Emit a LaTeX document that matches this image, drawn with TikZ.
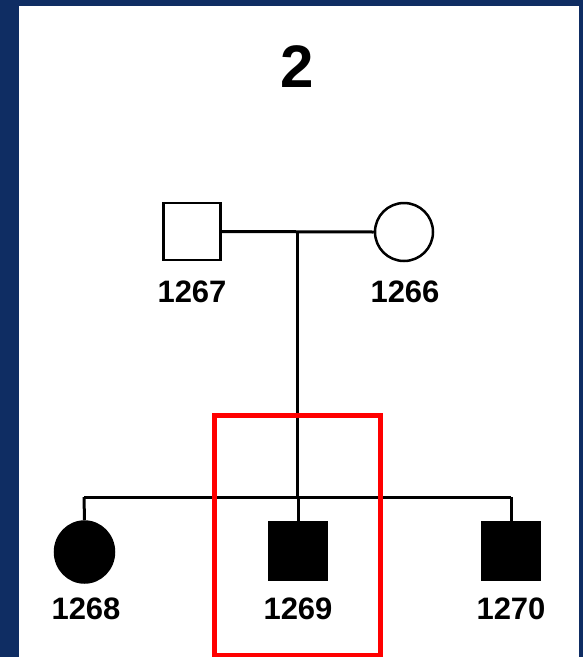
\documentclass[tikz,border=0pt]{standalone}
\usepackage{fontspec}
\usetikzlibrary{shapes.geometric}
\setmainfont{Liberation Sans}
\definecolor{frameblue}{HTML}{0F2D63}
\definecolor{hlred}{HTML}{FF0000}
\begin{document}
\begin{tikzpicture}[x=1pt,y=-1pt,
  male/.style={draw=black,line width=2.5pt,minimum size=57pt,inner sep=0pt,rectangle},
  female/.style={draw=black,line width=2.5pt,minimum size=58pt,inner sep=0pt,circle},
  affected/.style={fill=black},
  idlabel/.style={font=\fontsize{31}{31}\selectfont\bfseries,inner sep=0pt,anchor=center},
  link/.style={draw=black,line width=3pt}]
\useasboundingbox (0,0) rectangle (583,657);
\fill[frameblue] (0,0) rectangle (583,657);
\fill[white] (19,6) rectangle (579,657);
\node[font=\fontsize{60}{60}\selectfont\bfseries,inner sep=0pt] (title) at (297,67) {2};
% parents
\node[male] (p1267) at (192,231.5) {};
\node[female] (p1266) at (404,232) {};
\node[idlabel] (l1267) at (192,292) {1267};
\node[idlabel] (l1266) at (405,292) {1266};
\coordinate (mid) at (297,232);
\coordinate (sib) at (297,497);
\coordinate (sibL) at (84,497);
\coordinate (sibR) at (511,497);
\draw[link] (p1267.east) -- (p1266.west);
\draw[link] (mid) -- (sib);
\draw[link] (sibL) -- (sibR);
% children
\node[draw=black,line width=2.5pt,inner sep=0pt,ellipse,affected,minimum width=59pt,minimum height=61pt] (c1268) at (84.5,552) {};
\node[male,affected] (c1269) at (298,551) {};
\node[male,affected] (c1270) at (511,551) {};
\draw[link] (sibL) -- (c1268.north);
\draw[link] (sib -| c1269) -- (c1269.north);
\draw[link] (sibR) -- (c1270.north);
\node[idlabel] (l1268) at (86,609) {1268};
\node[idlabel] (l1269) at (298,609) {1269};
\node[idlabel] (l1270) at (511,609) {1270};
% highlight
\node[draw=hlred,line width=5pt,minimum width=166pt,minimum height=240pt,inner sep=0pt] (hl) at (297.5,535) {};
\end{tikzpicture}
\end{document}
